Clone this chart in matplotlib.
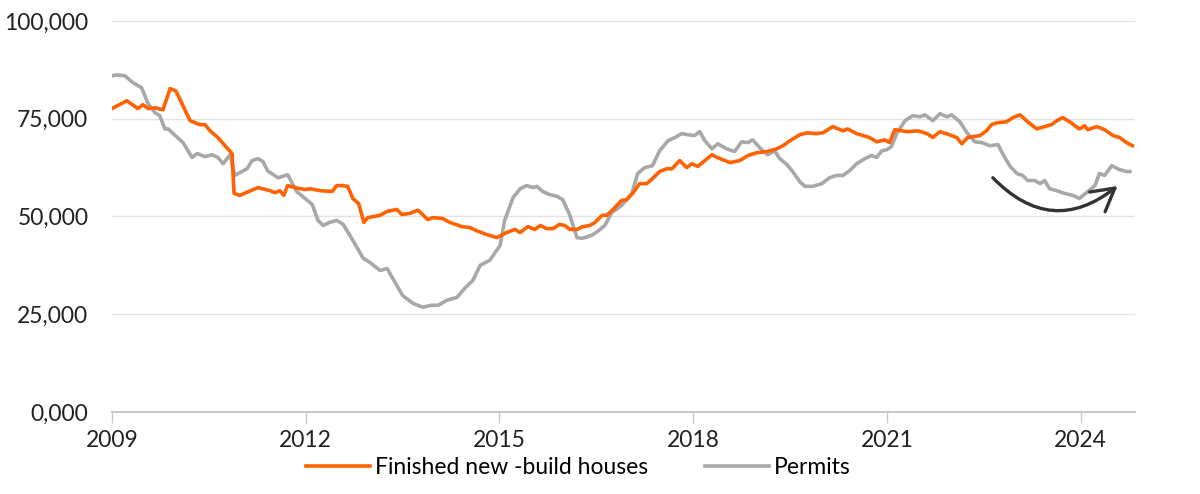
import matplotlib
matplotlib.use("Agg")
import matplotlib.pyplot as plt
from matplotlib.ticker import FixedLocator

plt.rcParams['font.family'] = ['Lato', 'DejaVu Sans']

# (decimal year, houses)
finished_t = [2009.00, 2009.23, 2009.40, 2009.48, 2009.56, 2009.67, 2009.79, 2009.90, 2009.99,
              2010.21, 2010.36, 2010.44, 2010.52, 2010.64, 2010.75, 2010.86, 2010.89, 2010.98,
              2011.26, 2011.45, 2011.52, 2011.60, 2011.66, 2011.72, 2011.83, 2011.99,
              2012.07, 2012.22, 2012.41, 2012.48, 2012.58, 2012.65, 2012.73, 2012.82, 2012.90, 2012.96,
              2013.15, 2013.26, 2013.41, 2013.49, 2013.61, 2013.74, 2013.89, 2013.97,
              2014.12, 2014.23, 2014.42, 2014.54, 2014.67, 2014.80, 2014.96,
              2015.11, 2015.24, 2015.32, 2015.44, 2015.55, 2015.63, 2015.73, 2015.83, 2015.93,
              2016.01, 2016.09, 2016.20, 2016.29, 2016.40, 2016.48, 2016.59, 2016.66, 2016.76, 2016.89, 2016.97,
              2017.07, 2017.17, 2017.28, 2017.37, 2017.48, 2017.59, 2017.67, 2017.79, 2017.90, 2017.98,
              2018.07, 2018.18, 2018.29, 2018.37, 2018.46, 2018.57, 2018.72, 2018.85, 2018.98,
              2019.14, 2019.29, 2019.39, 2019.50, 2019.65, 2019.76, 2019.91,
              2020.01, 2020.16, 2020.32, 2020.39, 2020.53, 2020.63, 2020.73, 2020.84, 2020.97,
              2021.04, 2021.12, 2021.31, 2021.48, 2021.62, 2021.71, 2021.82, 2021.97,
              2022.08, 2022.16, 2022.25, 2022.44, 2022.54, 2022.62, 2022.71, 2022.85, 2022.95,
              2023.06, 2023.18, 2023.32, 2023.44, 2023.55, 2023.63, 2023.72, 2023.83, 2023.98,
              2024.06, 2024.11, 2024.25, 2024.37, 2024.50, 2024.60, 2024.71, 2024.80]
finished_v = [77600, 79600, 77600, 78600, 77600, 77800, 77300, 82700, 82100,
              74500, 73500, 73500, 71900, 70200, 68100, 66100, 55900, 55400,
              57400, 56600, 56100, 56600, 55400, 57900, 57400, 56900,
              57100, 56600, 56400, 57900, 57900, 57700, 54600, 53300, 48500, 49700,
              50300, 51300, 51800, 50500, 50800, 51600, 49200, 49700,
              49500, 48500, 47400, 47200, 46200, 45400, 44600,
              45900, 46700, 45900, 47400, 46700, 47700, 46900, 46900, 48000,
              47700, 46700, 46700, 47400, 47700, 48500, 50300, 50300, 51800, 54100, 54300,
              56100, 58400, 58400, 59700, 61500, 62200, 62200, 64300, 62500, 63500,
              62800, 64300, 65800, 65100, 64500, 63800, 64300, 65600, 66300,
              66600, 67300, 68100, 69400, 70900, 71400, 71200,
              71400, 73000, 71900, 72400, 71200, 70700, 70200, 69100, 69600,
              68900, 72200, 71700, 71900, 71200, 70200, 71700, 70900,
              70200, 68600, 70200, 70700, 71900, 73500, 74000, 74200, 75300,
              76000, 74200, 72400, 73000, 73500, 74500, 75300, 74200, 72400,
              73200, 72200, 73000, 72200, 70700, 70200, 68900, 68100]

permits_t = [2009.00, 2009.08, 2009.20, 2009.31, 2009.46, 2009.56, 2009.67, 2009.74, 2009.82, 2009.87, 2009.98,
             2010.10, 2010.24, 2010.32, 2010.44, 2010.55, 2010.64, 2010.72, 2010.83, 2010.90,
             2011.01, 2011.09, 2011.17, 2011.26, 2011.34, 2011.41, 2011.57, 2011.72, 2011.86, 2011.99,
             2012.10, 2012.19, 2012.27, 2012.37, 2012.48, 2012.58, 2012.73, 2012.89, 2012.99,
             2013.15, 2013.26, 2013.41, 2013.50, 2013.66, 2013.81, 2013.95,
             2014.05, 2014.19, 2014.34, 2014.46, 2014.59, 2014.70, 2014.85,
             2015.01, 2015.08, 2015.21, 2015.32, 2015.42, 2015.52, 2015.58, 2015.67, 2015.78, 2015.90, 2015.98,
             2016.09, 2016.20, 2016.28, 2016.43, 2016.52, 2016.63, 2016.74, 2016.89,
             2017.05, 2017.14, 2017.25, 2017.37, 2017.48, 2017.61, 2017.72, 2017.82, 2017.92,
             2018.02, 2018.10, 2018.18, 2018.29, 2018.38, 2018.52, 2018.64, 2018.75, 2018.85, 2018.92,
             2019.03, 2019.15, 2019.26, 2019.34, 2019.45, 2019.54, 2019.65, 2019.73, 2019.85, 2019.99,
             2020.11, 2020.22, 2020.32, 2020.42, 2020.53, 2020.66, 2020.76, 2020.84, 2020.92,
             2021.00, 2021.07, 2021.15, 2021.28, 2021.40, 2021.51, 2021.59, 2021.71, 2021.82, 2021.93,
             2022.00, 2022.13, 2022.24, 2022.36, 2022.47, 2022.59, 2022.72, 2022.79, 2022.90,
             2023.01, 2023.10, 2023.18, 2023.29, 2023.37, 2023.44, 2023.52, 2023.63, 2023.75, 2023.88, 2023.98,
             2024.09, 2024.22, 2024.29, 2024.37, 2024.48, 2024.60, 2024.71, 2024.76]
permits_v = [86000, 86200, 86000, 84400, 82900, 78800, 76500, 75800, 72400, 72400, 70700,
             68900, 65100, 66100, 65300, 65800, 65100, 63500, 65800, 60500,
             61500, 62200, 64300, 64800, 64000, 61700, 59900, 60700, 56400, 54600,
             53100, 49000, 47700, 48500, 49000, 48000, 43900, 39300, 38300,
             36200, 36700, 32400, 29800, 27800, 26800, 27300,
             27300, 28600, 29300, 31600, 33700, 37500, 38800,
             42600, 49000, 54800, 57100, 57900, 57400, 57700, 56400, 55600, 55100, 54300,
             50300, 44600, 44400, 45200, 46200, 47700, 51000, 52800,
             55900, 61000, 62500, 63000, 66800, 69400, 70200, 71200, 70900,
             70700, 71700, 69400, 67300, 68600, 67300, 66600, 69100, 68900, 69600,
             67600, 65800, 66800, 64800, 63300, 61500, 58900, 57700, 57700, 58400,
             59900, 60500, 60500, 61700, 63500, 64800, 65600, 65100, 66800,
             67100, 67900, 71200, 74500, 75800, 75500, 76000, 74500, 76300, 75500,
             76000, 74200, 71400, 69100, 68900, 68100, 68400, 66100, 63000,
             61000, 60500, 59200, 59200, 58400, 59200, 57100, 56600, 55900, 55400, 54600,
             56100, 57900, 61000, 60500, 63000, 62000, 61500, 61500]

year_ticks = [2009, 2012, 2015, 2018, 2021, 2024]
y_ticks = [0, 25000, 50000, 75000, 100000]
y_labels = ['0,000', '25,000', '50,000', '75,000', '100,000']

orange = '#FF6200'
grey = '#A8A8A8'

fig = plt.figure(figsize=(12, 4.94), dpi=100)
ax = fig.add_axes([0.0933, 0.166, 0.8525, 0.7915])

ax.plot(finished_t, finished_v, color=orange, lw=2.6, label='Finished new -build houses',
        solid_joinstyle='round', zorder=3)
ax.plot(permits_t, permits_v, color=grey, lw=2.6, label='Permits',
        solid_joinstyle='round', zorder=2)

ax.set_xlim(2009, 2024.84)
ax.set_ylim(0, 100000)
ax.set_yticks(y_ticks)
ax.set_yticklabels(y_labels)
ax.xaxis.set_major_locator(FixedLocator(year_ticks))
ax.set_xticklabels([str(y) for y in year_ticks])

ax.grid(axis='y', color='#E3E3E3', lw=1)
ax.set_axisbelow(True)
for s in ['left', 'right', 'top']:
    ax.spines[s].set_visible(False)
ax.spines['bottom'].set_color('#C8C8C8')
ax.spines['bottom'].set_linewidth(1.5)
ax.tick_params(axis='y', length=0, labelsize=16.5, pad=17, colors='#222222')
ax.tick_params(axis='x', length=8, width=1, color='#C8C8C8', labelsize=16.5, pad=5,
               labelcolor='#222222')

# arrow pointing at the recent pickup in permits
ax.annotate('', xy=(2024.57, 57800), xytext=(2022.64, 59900),
            arrowprops=dict(arrowstyle='->,head_length=0.8,head_width=0.45',
                            connectionstyle='arc3,rad=0.45', color='#333333',
                            lw=2.4, mutation_scale=20, shrinkA=0, shrinkB=0))

fig.legend(loc='center', bbox_to_anchor=(0.482, 0.053), ncol=2, frameon=False,
           fontsize=16.5, handlelength=2.8, handletextpad=0.2, columnspacing=2.5)

fig.savefig('out.png', dpi=100)
